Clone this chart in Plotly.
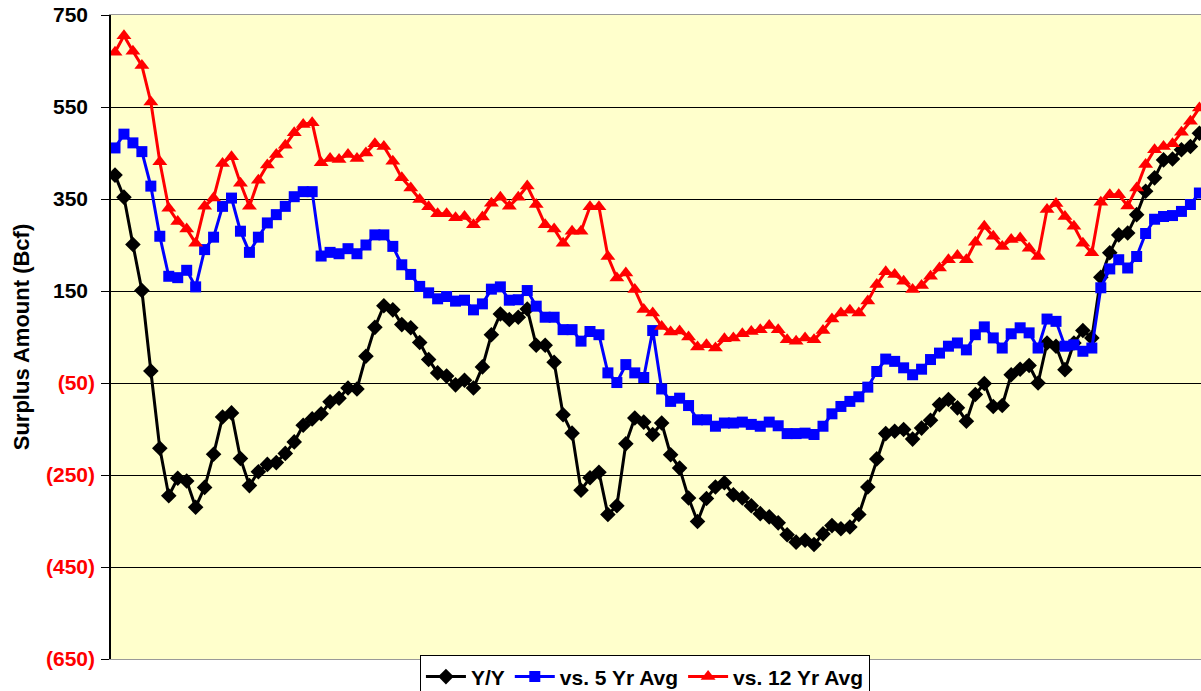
import plotly.graph_objects as go

yy = [402, 354, 251, 151, -24, -192, -295, -257, -263, -320, -277, -205, -124, -115, -214, -273, -243, -227, -223, -203,
      -178, -142, -128, -117, -91, -83, -61, -63, 8, 71, 118,
      109, 77, 70, 38, 1, -28, -35, -54, -44, -61, -15, 55, 100, 88, 93, 111, 32, 32, -5, -119, -159, -283, -256, -244,
      -336, -317, -182, -126,
      -135, -162, -137, -206, -235, -300, -351, -301, -276, -267, -293, -300, -317, -334, -341, -354, -380, -396, -392,
      -401, -378, -360, -367, -363, -336, -276, -215, -160, -155, -151, -172, -148,
      -131, -97, -86, -104, -133, -75, -51, -101, -99, -32, -20, -12, -50, 37, 30, -21, 37, 64, 48, 180, 233, 272, 276,
      316, 367, 396, 435, 437, 457, 464, 493]

vs5 = [461, 491, 472, 453, 378, 269, 182, 179, 195, 159, 240, 267, 334, 352, 280, 234, 267, 298, 316, 334, 355, 366, 366,
       226, 234, 231, 242, 231, 250, 272,
       272, 247, 207, 186, 160, 146, 133, 138, 128, 130, 109, 122, 154, 159, 130, 131, 151, 117, 93, 93, 66, 66, 41, 62,
       55, -28, -49, -10, -28,
       -38, 64, -63, -90, -83, -99, -130, -130, -144, -137, -137, -135, -140, -144, -135, -143, -160, -160, -159, -162,
       -144, -117, -101, -90, -80, -59, -25, 2, -3, -17, -32, -20,
       1, 15, 30, 37, 22, 55, 72, 48, 26, 57, 70, 59, 26, 89, 84, 30, 33, 19, 26, 157, 198, 218, 200, 225, 275, 306, 312,
       314, 323, 338, 363]

vs12 = [669, 705, 671, 640, 561, 431, 330, 301, 285, 254, 334, 352, 427, 442, 384, 334, 391, 424, 447, 467, 494, 512, 516,
        429, 438, 436, 447, 438, 450, 470,
        464, 432, 396, 374, 349, 333, 318, 318, 309, 312, 294, 311, 341, 354, 334, 354, 378, 338, 294, 285, 254, 280, 280,
        333, 333, 225, 178, 189, 153, 110,
        102, 73, 61, 63, 50, 28, 33, 26, 46, 48, 57, 62, 66, 75, 66, 44, 41, 48, 44, 64, 89, 102, 108, 102, 128, 164, 192,
        186, 171, 153, 162,
        182, 200, 218, 227, 218, 256, 291, 269, 247, 262, 265, 243, 225, 327, 340, 312, 291, 254, 233, 343, 359, 359, 335,
        374, 425, 457, 464, 470, 495, 519, 548]

weeks = list(range(len(yy)))

tick_vals = [750, 550, 350, 150, -50, -250, -450, -650]
tick_text = ["750", "550", "350", "150", "(50)", "(250)", "(450)", "(650)"]

labels = []
for v, t in zip(tick_vals, tick_text):
    if v < 0:
        labels.append("<b><span style='color:#FF0000'>%s</span></b>" % t)
    else:
        labels.append("<b>%s<span style='color:rgba(0,0,0,0)'>)</span></b>" % t)

fig = go.Figure()
fig.add_trace(go.Scatter(x=weeks, y=yy, name="Y/Y", mode="lines+markers",
                         line=dict(color="#000000", width=3),
                         marker=dict(symbol="diamond", size=12, color="#000000")))
fig.add_trace(go.Scatter(x=weeks, y=vs5, name="vs. 5 Yr Avg", mode="lines+markers",
                         line=dict(color="#0000FF", width=3),
                         marker=dict(symbol="square", size=11, color="#0000FF")))
fig.add_trace(go.Scatter(x=weeks, y=vs12, name="vs. 12 Yr Avg", mode="lines+markers",
                         line=dict(color="#FF0000", width=3),
                         marker=dict(symbol="triangle-up", size=13, color="#FF0000")))

fig.update_layout(
    width=1201, height=691,
    margin=dict(l=111, r=0, t=15, b=32, autoexpand=False),
    paper_bgcolor="#FFFFFF",
    plot_bgcolor="#FFFFCC",
    font=dict(family="Liberation Sans, Arial, sans-serif", color="#000000"),
    showlegend=True,
    legend=dict(orientation="h", xref="container", x=0.537, xanchor="center",
                yref="paper", y=0.0055, yanchor="top",
                bgcolor="#FFFFFF", bordercolor="#000000", borderwidth=1,
                font=dict(size=21, weight="bold"), itemwidth=40,
                tracegroupgap=0),
)
fig.update_xaxes(range=[-0.446, 121.18], showticklabels=False, showgrid=False, zeroline=False,
                 showline=True, linecolor="#999999", linewidth=1, mirror=True, ticks="")
fig.update_yaxes(range=[-650, 750], tickvals=tick_vals, ticktext=labels, showgrid=True,
                 gridcolor="#000000", gridwidth=1, zeroline=False,
                 showline=True, linecolor="#000000", linewidth=1.5,
                 ticks="outside", ticklen=8, tickcolor="#000000", tickwidth=1,
                 ticklabelstandoff=2,
                 tickfont=dict(size=21, color="#000000"),
                 title=dict(text="<b>Surplus Amount (Bcf)</b>", font=dict(size=22), standoff=10))

fig.write_html("out.html", config={"displayModeBar": False},
               post_script="document.body.style.margin='0';")
